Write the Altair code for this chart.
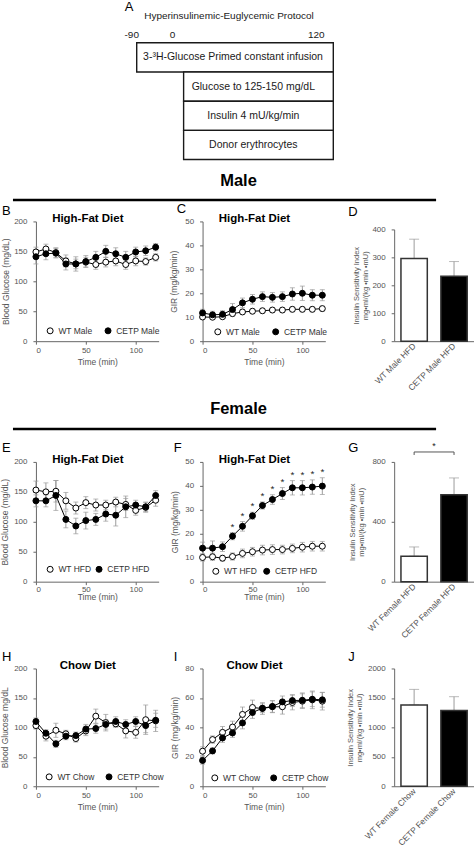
import altair as alt
import pandas as pd

FONT = "Liberation Sans"
INK = "#1a1a1a"
WHISKER = "#9c9c9c"

# ---------------- protocol schematic ----------------
protocol_title = "Hyperinsulinemic-Euglycemic Protocol"
protocol_steps = [
    "3-³H-Glucose Primed constant infusion",
    "Glucose to 125-150 mg/dL",
    "Insulin 4 mU/kg/min",
    "Donor erythrocytes",
]
protocol_start = [-90, 0, 0, 0]
protocol_end = [120, 120, 120, 120]
protocol_ticks = [-90, 0, 120]
protocol_tick_text = ["-90", "0", "120"]

# ---------------- clamp time courses ----------------
minutes = [0, 10, 20, 30, 40, 50, 60, 70, 80, 90, 100, 110, 120]

# B  male, high-fat diet: blood glucose (mg/dL)
male_bg_wt = [149, 154, 148, 134, 129, 132, 128, 132, 134, 128, 134, 133, 140]
male_bg_wt_sem = [8, 8, 8, 10, 8, 8, 8, 8, 8, 8, 8, 6, 6]
male_bg_cetp = [141, 146, 147, 129, 129, 133, 140, 150, 146, 140, 149, 151, 157]
male_bg_cetp_sem = [12, 10, 8, 10, 12, 10, 10, 10, 10, 10, 8, 8, 6]

# C  male, high-fat diet: glucose infusion rate (mg/kg/min)
male_gir_wt = [10.1, 10.0, 10.2, 11.5, 12.2, 12.5, 12.7, 13.0, 13.0, 13.3, 13.3, 13.3, 13.6]
male_gir_wt_sem = [0.8, 0.8, 0.8, 1.0, 1.0, 1.0, 1.0, 1.0, 1.0, 1.0, 1.0, 1.0, 1.0]
male_gir_cetp = [11.8, 11.0, 11.2, 13.2, 16.0, 17.5, 18.6, 18.3, 18.6, 19.7, 20.0, 19.2, 19.2]
male_gir_cetp_sem = [1.5, 1.5, 1.5, 2.5, 2.0, 2.0, 2.0, 2.0, 2.0, 2.6, 3.0, 2.3, 2.3]

# D  male, high-fat diet: insulin sensitivity index
male_isi_groups = ["WT Male HFD", "CETP Male HFD"]
male_isi = [296, 232]
male_isi_sem = [69, 53]

# E  female, high-fat diet: blood glucose (mg/dL)
fem_bg_wt = [153, 150, 151, 135, 123, 132, 128, 128, 133, 129, 119, 124, 136]
fem_bg_wt_sem = [15, 15, 18, 14, 10, 10, 10, 8, 8, 10, 8, 8, 10]
fem_bg_cetp = [135, 135, 144, 104, 93, 102, 104, 113, 111, 125, 128, 125, 144]
fem_bg_cetp_sem = [10, 10, 25, 14, 13, 14, 10, 12, 18, 18, 8, 8, 8]

# F  female, high-fat diet: glucose infusion rate (mg/kg/min)
fem_gir_wt = [10.1, 10.4, 9.8, 10.5, 11.8, 12.5, 13.2, 13.4, 13.4, 13.9, 14.4, 14.8, 14.8]
fem_gir_wt_sem = [1.5, 1.5, 1.2, 1.5, 1.8, 1.8, 2.0, 2.0, 1.8, 1.8, 2.0, 2.0, 2.0]
fem_gir_cetp = [14.0, 14.0, 14.6, 19.0, 23.1, 27.5, 31.8, 34.3, 36.8, 39.2, 39.2, 39.5, 39.9]
fem_gir_cetp_sem = [2.5, 3.0, 2.0, 1.5, 2.0, 1.5, 1.5, 2.0, 2.5, 3.0, 3.0, 3.0, 3.5]
fem_gir_significant = [30, 40, 50, 60, 70, 80, 90, 100, 110, 120]

# G  female, high-fat diet: insulin sensitivity index
fem_isi_groups = ["WT Female HFD", "CETP Female HFD"]
fem_isi = [170, 580]
fem_isi_sem = [62, 113]

# H  female, chow: blood glucose (mg/dL)
chow_bg_wt = [103, 85, 95, 89, 81, 94, 119, 108, 106, 94, 91.5, 113, 111]
chow_bg_wt_sem = [6, 8, 12, 6, 6, 8, 12, 14, 6, 12, 10, 25, 18]
chow_bg_cetp = [110, 90, 72, 85, 86, 97, 98, 105, 110, 105, 110, 103, 112]
chow_bg_cetp_sem = [6, 6, 6, 6, 6, 8, 8, 8, 8, 8, 8, 12, 12]

# I  female, chow: glucose infusion rate (mg/kg/min)
chow_gir_wt = [23.8, 31.7, 36.6, 40.2, 48.8, 53.5, 52.8, 54.0, 54.0, 56.9, 57.8, 58.7, 57.8]
chow_gir_wt_sem = [3, 2.5, 4, 4, 5, 5, 4, 4, 5, 5, 5, 6, 6]
chow_gir_cetp = [17.5, 24.0, 32.8, 36.2, 43.0, 50.1, 53.0, 54.2, 57.3, 58.2, 58.4, 59.1, 58.7]
chow_gir_cetp_sem = [2.5, 2, 3, 3, 4, 4, 3, 4, 4, 4, 5, 5, 5]

# J  female, chow: insulin sensitivity index
chow_isi_groups = ["WT Female Chow", "CETP Female Chow"]
chow_isi = [1380, 1285]
chow_isi_sem = [265, 236]

ISI_TITLE = ["Insulin Sensitivity Index", "mg\u2022ml/(kg \u2022min \u2022mU)"]
ONE = pd.DataFrame({"k": [0]})
LINE_W = 123
BAR_W = 80
GAP_1 = 44
GAP_2 = 69


def tag(letter, dx, dy):
    return alt.Chart(ONE).mark_text(
        text=letter, font=FONT, fontSize=13, align="left", baseline="middle", color="black"
    ).encode(x=alt.value(dx), y=alt.value(dy))


def spacer(w=1, h=1):
    return alt.Chart(ONE).mark_text(text=" ").encode(
        x=alt.value(0), y=alt.value(0)
    ).properties(width=w, height=h)


def time_course(letter, letter_dx, letter_dy, title, labels, wt, wt_sem, cetp, cetp_sem,
                y_max, y_step, y_title, y_title_pad, x_label_pad, x_title_pad,
                legend_x, legend_y, legend_gap, height, stars=None):
    n = len(minutes)
    df = pd.DataFrame({
        "time": minutes * 2,
        "group": [labels[0]] * n + [labels[1]] * n,
        "mean": wt + cetp,
        "sem": wt_sem + cetp_sem,
    })
    df["lo"] = df["mean"] - df["sem"]
    df["hi"] = df["mean"] + df["sem"]

    xs = alt.Scale(domain=[0, LINE_W], nice=False)
    ys = alt.Scale(domain=[0, y_max], nice=False)
    x_axis = alt.Axis(values=[0, 50, 100], title="Time (min)", labelPadding=x_label_pad,
                      titlePadding=x_title_pad, format="d")
    y_axis = alt.Axis(values=list(range(0, y_max + 1, y_step)), title=y_title,
                      titlePadding=y_title_pad, labelPadding=6, format="d")
    X = alt.X("time:Q", scale=xs, axis=x_axis)

    base = alt.Chart(df)
    whiskers = base.mark_errorbar(color=WHISKER, ticks={"size": 5}).encode(
        x=X, y=alt.Y("lo:Q", scale=ys, axis=y_axis), y2="hi:Q"
    )
    lines = base.mark_line(color="black", strokeWidth=1).encode(
        x=X, y=alt.Y("mean:Q", scale=ys, axis=y_axis), detail="group:N"
    )
    dots = base.mark_point(shape="circle", filled=True, size=36, stroke="black",
                           strokeWidth=1, opacity=1).encode(
        x=X,
        y=alt.Y("mean:Q", scale=ys, axis=y_axis),
        fill=alt.Fill(
            "group:N",
            scale=alt.Scale(domain=labels, range=["white", "black"]),
            legend=alt.Legend(
                orient="none", legendX=legend_x, legendY=legend_y, direction="horizontal",
                title=None, symbolType="circle", symbolSize=36, symbolStrokeColor="black",
                symbolStrokeWidth=1, symbolOpacity=1, labelFont=FONT, labelFontSize=8.5,
                labelColor="#333333", columnPadding=legend_gap, labelOffset=4, padding=0,
            ),
        ),
    )
    layers = [whiskers, lines, dots]
    if stars:
        sig = df[(df["group"] == labels[1]) & (df["time"].isin(stars))]
        layers.append(
            alt.Chart(sig).mark_text(text="*", font=FONT, fontSize=10, baseline="bottom",
                                     color=INK, dy=-1).encode(
                x=X, y=alt.Y("hi:Q", scale=ys, axis=y_axis)
            )
        )
    head = alt.Chart(ONE).mark_text(
        text=title, font=FONT, fontSize=11.5, fontWeight="bold", baseline="middle", color="black"
    ).encode(x=alt.value(52), y=alt.value(-2))
    layers += [head, tag(letter, letter_dx, letter_dy)]
    return alt.layer(*layers).properties(width=LINE_W, height=height)


def sensitivity(letter, letter_dx, letter_dy, names, vals, sems, y_max, y_step,
                title_pad, height, top=0, bracket=False):
    df = pd.DataFrame({"name": names, "val": vals, "sem": sems})
    df["hi"] = df["val"] + df["sem"]
    xs = alt.Scale(domain=names, paddingInner=0.34, paddingOuter=0.17)
    x_axis = alt.Axis(title=None, labelAngle=-45, ticks=False, labelPadding=3,
                      labelFontSize=8.5, labelAlign="right", labelBaseline="middle")
    X = alt.X("name:N", scale=xs, sort=names, axis=x_axis)
    ys = alt.Scale(domain=[0, y_max], nice=False, range=[height, top])
    y_axis = alt.Axis(values=list(range(0, y_max + 1, y_step)), title=ISI_TITLE,
                      titlePadding=title_pad, titleFontSize=7.5, titleLineHeight=9,
                      labelPadding=6, format="d")
    base = alt.Chart(df)
    whiskers = base.mark_errorbar(color=WHISKER, ticks={"size": 10}).encode(
        x=X, y=alt.Y("val:Q", scale=ys, axis=y_axis), y2="hi:Q"
    )
    cols = base.mark_bar(stroke="#333333", strokeWidth=1.5).encode(
        x=X,
        y=alt.Y("val:Q", scale=ys, axis=y_axis),
        fill=alt.Fill("name:N", scale=alt.Scale(domain=names, range=["white", "black"]),
                      legend=None),
    )
    layers = [whiskers, cols]
    if bracket:
        pair = pd.DataFrame({"name": [names[0]], "other": [names[1]]})
        level = y_max * 1.083
        drop = y_max * 1.058
        layers.append(alt.Chart(pair).mark_rule(color="#555555", strokeWidth=1).encode(
            x=X, x2="other:N", y=alt.datum(level)))
        layers.append(base.mark_rule(color="#555555", strokeWidth=1).encode(
            x=X, y=alt.datum(level), y2=alt.datum(drop)))
        layers.append(alt.Chart(ONE).mark_text(
            text="*", font=FONT, fontSize=9, baseline="bottom", color=INK, dy=-1
        ).encode(x=alt.value(BAR_W / 2), y=alt.datum(level)))
    layers.append(tag(letter, letter_dx, letter_dy))
    return alt.layer(*layers).properties(width=BAR_W, height=height)


# ---------------- panel A ----------------
pdf = pd.DataFrame({"step": protocol_steps, "start": protocol_start, "end": protocol_end})
step_x = alt.Scale(domain=[-90, 0, 120], range=[101, 148, 298])
step_y = alt.Y("step:N", sort=protocol_steps, axis=None,
               scale=alt.Scale(paddingInner=0, paddingOuter=0))
boxes = alt.Chart(pdf).mark_rect(fill="white", stroke=INK, strokeWidth=1.4).encode(
    x=alt.X("start:Q", scale=step_x, axis=None), x2="end:Q", y=step_y
)
# labels sit at each step's mid-time on a compressed schematic axis
box_text = alt.Chart(pdf).transform_calculate(
    mid="(datum.start + datum.end) / 2"
).mark_text(font=FONT, fontSize=10.5, color=INK).encode(
    x=alt.X("mid:Q", scale=alt.Scale(domain=[-90, 120], range=[150, 245]), axis=None),
    y=step_y,
    text="step:N",
)
tdf = pd.DataFrame({"t": protocol_ticks, "label": protocol_tick_text})
tick_text = alt.Chart(tdf).mark_text(font=FONT, fontSize=10, color=INK).encode(
    x=alt.X("t:Q", scale=alt.Scale(domain=[-90, 0, 120], range=[96, 137, 281]), axis=None),
    y=alt.value(-8),
    text="label:N",
)
proto_head = alt.Chart(ONE).mark_text(
    text=protocol_title, font=FONT, fontSize=10, color=INK, baseline="middle"
).encode(x=alt.value(193.5), y=alt.value(-27))
panel_a = alt.layer(boxes, box_text, tick_text, proto_head, tag("A", 89, -36)).resolve_scale(
    x="independent"
).properties(width=LINE_W, height=117)


def heading(text, text_y, line_y, h):
    word = alt.Chart(ONE).mark_text(
        text=text, font=FONT, fontSize=16.5, fontWeight="bold", color="black", baseline="middle"
    ).encode(x=alt.value(203), y=alt.value(text_y))
    bar = alt.Chart(ONE).mark_rule(color="black", strokeWidth=2.6).encode(
        x=alt.value(-23), x2=alt.value(401), y=alt.value(line_y)
    )
    return alt.layer(word, bar).properties(width=LINE_W, height=h)


# ---------------- panels ----------------
panel_b = time_course("B", -34, -10, "High-Fat Diet", ["WT Male", "CETP Male"],
                      male_bg_wt, male_bg_wt_sem, male_bg_cetp, male_bg_cetp_sem,
                      200, 50, "Blood Glucose (mg/dL)", 3, 2, 3, 10, 105, 10, 120)
panel_c = time_course("C", -26, -12, "High-Fat Diet", ["WT Male", "CETP Male"],
                      male_gir_wt, male_gir_wt_sem, male_gir_cetp, male_gir_cetp_sem,
                      50, 10, "GIR (mg/kg/min)", 6, 2, 3, 11, 106, 10, 120)
panel_d = sensitivity("D", -46, -9, male_isi_groups, male_isi, male_isi_sem, 400, 100, 2, 120,
                      top=8)

panel_e = time_course("E", -34, -14, "High-Fat Diet", ["WT HFD", "CETP HFD"],
                      fem_bg_wt, fem_bg_wt_sem, fem_bg_cetp, fem_bg_cetp_sem,
                      200, 50, "Blood Glucose (mg/dL)", 4, 1, -1, 10, 103, 2, 120)
panel_f = time_course("F", -29, -14, "High-Fat Diet", ["WT HFD", "CETP HFD"],
                      fem_gir_wt, fem_gir_wt_sem, fem_gir_cetp, fem_gir_cetp_sem,
                      50, 10, "GIR (mg/kg/min)", 5, 1, -1, 9, 105, 4, 120,
                      stars=fem_gir_significant)
panel_g = sensitivity("G", -46, -14, fem_isi_groups, fem_isi, fem_isi_sem, 800, 200, 6, 120,
                      bracket=True)

panel_h = time_course("H", -34, -12, "Chow Diet", ["WT Chow", "CETP Chow"],
                      chow_bg_wt, chow_bg_wt_sem, chow_bg_cetp, chow_bg_cetp_sem,
                      200, 50, "Blood Glucose mg/dL", 4, 2, 3, 9, 104, 9, 118)
panel_i = time_course("I", -29, -12, "Chow Diet", ["WT Chow", "CETP Chow"],
                      chow_gir_wt, chow_gir_wt_sem, chow_gir_cetp, chow_gir_cetp_sem,
                      80, 20, "GIR (mg/kg/min)", 5, 2, 3, 8, 105, 8, 118)
panel_j = sensitivity("J", -46, -11, chow_isi_groups, chow_isi, chow_isi_sem, 2000, 500, 4, 118)

# five-column grid: plot, gap, plot, gap, bars
cells = [
    panel_a, spacer(), spacer(), spacer(), spacer(),
    heading("Male", 21, 40.5, 62), spacer(), spacer(), spacer(), spacer(),
    panel_b, spacer(GAP_1, 1), panel_c, spacer(GAP_2, 1), panel_d,
    heading("Female", 68, 88, 121), spacer(), spacer(), spacer(), spacer(),
    panel_e, spacer(), panel_f, spacer(), panel_g,
    spacer(1, 87), spacer(), spacer(), spacer(), spacer(),
    panel_h, spacer(), panel_i, spacer(), panel_j,
]

chart = alt.concat(
    *cells, columns=5, spacing=0, bounds="flush", align="each"
).resolve_scale(
    fill="independent", x="independent", y="independent"
).resolve_legend(
    fill="independent"
).properties(
    padding={"left": 0, "top": 0, "right": 0, "bottom": 0}
).configure_view(
    stroke=None
).configure_axis(
    labelFont=FONT, titleFont=FONT, labelFontSize=8, titleFontSize=8.5,
    labelColor="#555555", titleColor="#555555", domainColor="#666666",
    tickColor="#666666", tickSize=3, grid=False, titleFontWeight="normal"
).configure_text(
    font=FONT
)

chart.save("out.html", embed_options={"renderer": "svg", "actions": False})
